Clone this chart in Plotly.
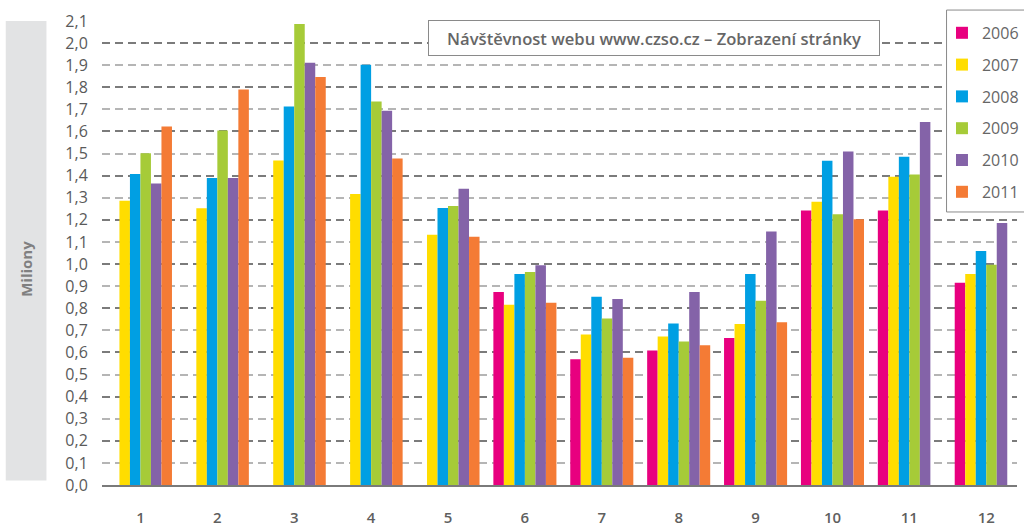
import plotly.graph_objects as go

months = ["1", "2", "3", "4", "5", "6", "7", "8", "9", "10", "11", "12"]
years = ["2006", "2007", "2008", "2009", "2010", "2011"]

v2006 = [None, None, None, None, None, 0.873, 0.569, 0.609, 0.665, 1.242, 1.242, 0.915]
v2007 = [1.286, 1.253, 1.469, 1.317, 1.133, 0.816, 0.681, 0.672, 0.729, 1.282, 1.395, 0.955]
v2008 = [1.407, 1.389, 1.713, 1.902, 1.254, 0.955, 0.852, 0.731, 0.955, 1.468, 1.486, 1.059]
v2009 = [1.502, 1.604, 2.086, 1.736, 1.263, 0.964, 0.753, 0.650, 0.834, 1.225, 1.405, 0.997]
v2010 = [1.365, 1.389, 1.911, 1.694, 1.341, 0.995, 0.842, 0.873, 1.147, 1.509, 1.643, 1.186]
v2011 = [1.622, 1.790, 1.847, 1.478, 1.124, 0.825, 0.576, 0.632, 0.737, 1.203, None, None]

series = [v2006, v2007, v2008, v2009, v2010, v2011]
colors = ["#e8007f", "#ffdd00", "#009fe3", "#a6cb38", "#8463a8", "#f47b35"]

ytick_vals = [round(i * 0.1, 1) for i in range(22)]
ytick_text = [f"{v:.1f}".replace(".", ",") for v in ytick_vals]
y_even = [v for i, v in enumerate(ytick_vals) if i % 2 == 0]
y_odd = [v for i, v in enumerate(ytick_vals) if i % 2 == 1]

FONT = "Open Sans"

fig = go.Figure()
for yr, vals, col in zip(years, series, colors):
    fig.add_trace(go.Bar(x=months, y=vals, name=yr, marker=dict(color=col, line=dict(width=0)),
                         legendgroup=yr))

# dummy traces to register overlay axes for the two gridline tones
fig.add_trace(go.Scatter(x=[], y=[], yaxis="y2", showlegend=False, hoverinfo="skip"))
fig.add_trace(go.Scatter(x=[], y=[], yaxis="y3", showlegend=False, hoverinfo="skip"))

dash = "8px,5px"
fig.update_layout(
    width=1024, height=527,
    margin=dict(l=102, r=0, t=21, b=40),
    paper_bgcolor="white", plot_bgcolor="white",
    barmode="group", bargap=0.18, bargroupgap=0,
    font=dict(family=FONT, color="#5a5a5a", size=15),
    xaxis=dict(type="category", range=[-0.5, 11.4], showgrid=False, showline=True,
               linecolor="#7a7a7a", linewidth=2,
               ticks="outside", ticklen=18, tickcolor="rgba(0,0,0,0)",
               tickfont=dict(family=FONT, size=15, color="#5f5f5f", weight=600)),
    yaxis=dict(range=[0, 2.1], tickvals=ytick_vals, ticktext=ytick_text, showgrid=False,
               zeroline=False, ticks="outside", ticklen=10, tickcolor="rgba(0,0,0,0)",
               tickfont=dict(family=FONT, size=16, color="#5a5a5a")),
    yaxis2=dict(range=[0, 2.1], overlaying="y", tickvals=y_odd, showticklabels=False,
                showgrid=True, gridcolor="#b5b5b5", gridwidth=2, griddash=dash, zeroline=False),
    yaxis3=dict(range=[0, 2.1], overlaying="y", tickvals=y_even, showticklabels=False,
                showgrid=True, gridcolor="#7b7b7b", gridwidth=2, griddash=dash, zeroline=False),
    legend=dict(x=0.918, y=1.011, xanchor="left", yanchor="top", bgcolor="rgba(0,0,0,0)",
                borderwidth=0, traceorder="grouped", tracegroupgap=8,
                font=dict(family=FONT, size=16, color="#666666")),
    showlegend=True,
)

# legend frame
fig.add_shape(type="rect", xref="paper", yref="paper", x0=0.923, x1=1.02, y0=0.5884, y1=1.0236,
              fillcolor="white", line=dict(color="#8a8a8a", width=1), layer="above")

# grey band behind y-axis title
fig.add_shape(type="rect", xref="paper", yref="paper", x0=-0.1052, x1=-0.0607, y0=0.0096, y1=1.0,
              fillcolor="#e2e3e4", line=dict(width=0), layer="below")
fig.add_annotation(text="Miliony", xref="paper", yref="paper", x=-0.0830, y=0.466, showarrow=False,
                   xanchor="center", yanchor="middle",
                   textangle=-90, font=dict(family=FONT, size=15, color="#808080", weight=700))

# title box
fig.add_annotation(text="Návštěvnost webu www.czso.cz – Zobrazení stránky", xref="paper", yref="paper",
                   x=0.6035, y=0.9635, xanchor="center", yanchor="middle", showarrow=False,
                   width=446, height=30, align="center",
                   bgcolor="white", bordercolor="#8a8a8a", borderwidth=1, borderpad=2,
                   font=dict(family=FONT, size=16.6, color="#666666", weight=600))

fig.write_html("out.html", post_script="document.body.style.margin='0';",
               config={"displayModeBar": False})
